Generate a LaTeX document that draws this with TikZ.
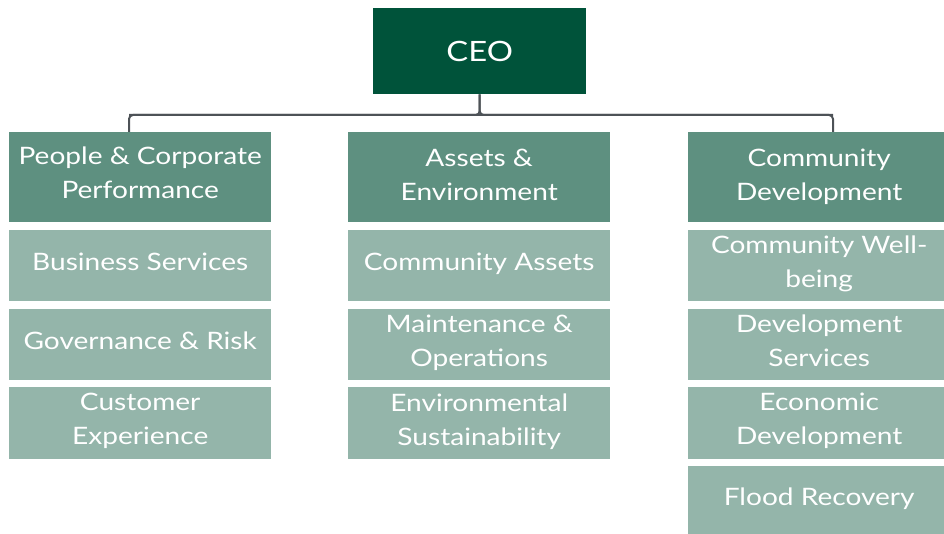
\documentclass[tikz,border=0pt]{standalone}
\usepackage{fontspec}
\setmainfont[FakeStretch=1.17]{Lato}
\definecolor{ceoC}{HTML}{00533A}
\definecolor{divC}{HTML}{5E9080}
\definecolor{subC}{HTML}{94B5AA}
\definecolor{lineC}{HTML}{4D5257}
\begin{document}
\begin{tikzpicture}[x=1pt,y=-1pt,
  box/.style={rectangle, inner sep=0pt, anchor=north west, text=white,
    font=\fontsize{24}{34}\selectfont, align=center, text depth=8pt,
    minimum width=262pt},
  ceobox/.style={box, fill=ceoC, minimum width=213pt, minimum height=86pt,
    text depth=0pt, font=\fontsize{28}{34}\selectfont},
  divbox/.style={box, fill=divC, minimum height=90pt, text depth=4pt},
  subbox/.style={box, fill=subC, minimum height=71pt},
  conn/.style={draw=lineC, line width=2pt, rounded corners=4pt}]
\useasboundingbox (0,0) rectangle (944,534);
\node[ceobox] (ceo) at (373,8) {CEO};
% division heads
\node[divbox, text depth=10pt] (pcp) at (9,132) {People \& Corporate\\Performance};
\node[divbox] (ae) at (348,132) {Assets \&\\Environment};
\node[divbox] (cd) at (688,132) {Community\\Development};
% column 1
\node[subbox] (bs) at (9,230) {Business Services};
\node[subbox] (gr) at (9,309) {Governance \& Risk};
\node[subbox, minimum height=72pt] (ce) at (9,387) {Customer\\Experience};
% column 2
\node[subbox] (ca) at (348,230) {Community Assets};
\node[subbox] (mo) at (348,309) {Maintenance \&\\Operations};
\node[subbox, minimum height=72pt] (es) at (348,387) {Environmental\\Sustainability};
% column 3
\node[subbox] (cw) at (688,230) {Community Well-\\being};
\node[subbox] (ds) at (688,309) {Development\\Services};
\node[subbox, minimum height=72pt] (ed) at (688,387) {Economic\\Development};
\node[subbox, minimum height=68pt] (fr) at (688,466) {Flood Recovery};
% connectors
\coordinate (hl) at (129,115);
\coordinate (hr) at (833,115);
\draw[conn] (pcp.north -| hl) -- (hl) -- (hr) -- (cd.north -| hr);
\draw[conn] (ceo.south) |- (hl);
\draw[conn] (ceo.south) |- (hr);
\end{tikzpicture}
\end{document}
